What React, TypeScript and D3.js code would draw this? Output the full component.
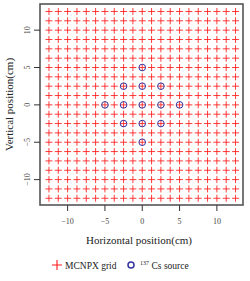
import React, { useEffect, useRef } from 'react';
import * as d3 from 'd3';

// MCNPX grid positions (cm), same on both axes
const gridPositions = [
  -12.5, -11.25, -10, -8.75, -7.5, -6.25, -5, -3.75, -2.5, -1.25, 0,
  1.25, 2.5, 3.75, 5, 6.25, 7.5, 8.75, 10, 11.25, 12.5,
];

// 137Cs source positions (x, y) in cm
const sourceX = [0, -2.5, 0, 2.5, -5, -2.5, 0, 2.5, 5, -2.5, 0, 2.5, 0];
const sourceY = [5, 2.5, 2.5, 2.5, 0, 0, 0, 0, 0, -2.5, -2.5, -2.5, -5];

const xTicks = [-10, -5, 0, 5, 10];
const yTicks = [-10, -5, 0, 5, 10];

const fmt = (v: number) => (v < 0 ? '\u2212' + Math.abs(v) : String(v));

export default function App() {
  const ref = useRef<SVGSVGElement>(null);

  useEffect(() => {
    const svg = d3.select(ref.current);
    svg.selectAll('*').remove();

    const width = 250;
    const height = 281;
    const margin = { top: 4, left: 40, bottom: 76, right: 7 };

    const x = d3.scaleLinear().domain([-13.7, 13.5]).range([margin.left, width - margin.right]);
    const y = d3.scaleLinear().domain([-13.4, 13.5]).range([height - margin.bottom, margin.top]);

    // grid crosses
    const pts: [number, number][] = [];
    gridPositions.forEach((gx) => gridPositions.forEach((gy) => pts.push([gx, gy])));
    const arm = 3.5;
    svg
      .append('g')
      .attr('stroke', '#ff1a1a')
      .attr('stroke-width', 0.85)
      .selectAll('path')
      .data(pts)
      .enter()
      .append('path')
      .attr('d', (d) => {
        const cx = x(d[0]);
        const cy = y(d[1]);
        return `M${cx - arm},${cy}H${cx + arm}M${cx},${cy - arm}V${cy + arm}`;
      });

    // sources
    const src = sourceX.map((sx, i) => [sx, sourceY[i]]);
    svg
      .append('g')
      .selectAll('circle')
      .data(src)
      .enter()
      .append('circle')
      .attr('cx', (d) => x(d[0]))
      .attr('cy', (d) => y(d[1]))
      .attr('r', 3.3)
      .attr('fill', 'none')
      .attr('stroke', '#3333a0')
      .attr('stroke-width', 1);

    // frame
    svg
      .append('rect')
      .attr('x', margin.left)
      .attr('y', margin.top)
      .attr('width', width - margin.left - margin.right)
      .attr('height', height - margin.top - margin.bottom)
      .attr('fill', 'none')
      .attr('stroke', '#555')
      .attr('stroke-width', 1.6);

    const bottom = height - margin.bottom;

    // X axis
    const xa = svg.append('g');
    xa.selectAll('line')
      .data(xTicks)
      .enter()
      .append('line')
      .attr('x1', (d) => x(d))
      .attr('x2', (d) => x(d))
      .attr('y1', bottom)
      .attr('y2', bottom + 6)
      .attr('stroke', '#333')
      .attr('stroke-width', 1);
    xa.selectAll('text')
      .data(xTicks)
      .enter()
      .append('text')
      .attr('x', (d) => x(d))
      .attr('y', bottom + 19)
      .attr('text-anchor', 'middle')
      .style('font-size', '8px')
      .attr('fill', '#444')
      .text((d) => fmt(d));

    // Y axis
    const ya = svg.append('g');
    ya.selectAll('line')
      .data(yTicks)
      .enter()
      .append('line')
      .attr('x1', margin.left - 6)
      .attr('x2', margin.left)
      .attr('y1', (d) => y(d))
      .attr('y2', (d) => y(d))
      .attr('stroke', '#333')
      .attr('stroke-width', 1);
    ya.selectAll('text')
      .data(yTicks)
      .enter()
      .append('text')
      .attr('transform', (d) => `translate(30,${y(d)}) rotate(-90)`)
      .attr('text-anchor', 'middle')
      .style('font-size', '8px')
      .attr('fill', '#444')
      .text((d) => fmt(d));

    // axis titles
    svg
      .append('text')
      .attr('x', 139)
      .attr('y', 244)
      .attr('text-anchor', 'middle')
      .style('font-size', '11px')
      .attr('fill', '#222')
      .text('Horizontal position(cm)');
    svg
      .append('text')
      .attr('transform', `translate(13,${(margin.top + bottom) / 2}) rotate(-90)`)
      .attr('text-anchor', 'middle')
      .style('font-size', '11px')
      .attr('fill', '#222')
      .text('Vertical position(cm)');

    // legend
    const lg = svg.append('g');
    const ly = 265;
    lg.append('path')
      .attr('d', `M52,${ly}H62M57,${ly - 5}V${ly + 5}`)
      .attr('stroke', '#ff1a1a')
      .attr('stroke-width', 1.1);
    lg.append('text')
      .attr('x', 65)
      .attr('y', ly + 3.5)
      .style('font-size', '9.5px')
      .attr('fill', '#222')
      .text('MCNPX grid');
    lg.append('circle')
      .attr('cx', 131)
      .attr('cy', ly)
      .attr('r', 3)
      .attr('fill', 'none')
      .attr('stroke', '#3333a0')
      .attr('stroke-width', 1.5);
    const t = lg
      .append('text')
      .attr('x', 140)
      .attr('y', ly + 3.5)
      .style('font-size', '9.5px')
      .attr('fill', '#222');
    t.append('tspan').style('font-size', '6px').attr('dy', -3.5).text('137');
    t.append('tspan').attr('dy', 3.5).attr('dx', 2.5).text('Cs source');
  }, []);

  return (
    <svg
      ref={ref}
      width={250}
      height={281}
      style={{
        position: 'absolute',
        left: 0,
        top: 0,
        display: 'block',
        background: '#fff',
        fontFamily: "'Liberation Serif', 'Times New Roman', serif",
      }}
    />
  );
}
